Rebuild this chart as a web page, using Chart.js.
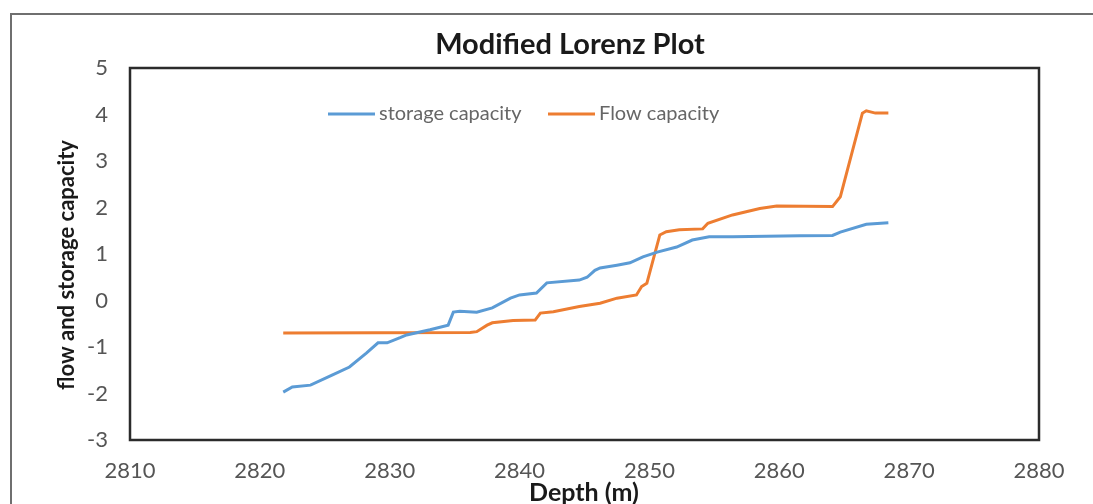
<!DOCTYPE html>
<html>
<head>
<meta charset="utf-8">
<script src="https://cdn.jsdelivr.net/npm/chart.js@4"></script>
<style>
  body { margin: 0; background: #fff; overflow: hidden; }
  #wrap { position: relative; width: 1093px; height: 504px; }
  #frame { position: absolute; left: 10px; top: 13px; width: 1100px; height: 600px; border: 2px solid #6f6f6f; }
  canvas { position: absolute; left: 0; top: 0; }
</style>
</head>
<body>
<div id="wrap">
  <div id="frame"></div>
  <canvas id="lorenz-chart" width="1093" height="504"></canvas>
</div>
<script>
const depthStorage = [2821.8, 2822.5, 2823.9, 2825.6, 2826.9, 2828.2, 2829.1, 2829.8, 2830.8, 2831.3, 2833.1, 2834.5, 2834.9, 2835.4, 2836.7, 2837.9, 2839.3, 2840.0, 2841.3, 2842.1, 2844.6, 2845.2, 2845.8, 2846.2, 2847.5, 2848.5, 2849.5, 2850.6, 2852.1, 2853.3, 2854.6, 2856.4, 2861.6, 2864.1, 2864.7, 2866.7, 2868.4];
const storageCapacity = [-1.97, -1.86, -1.82, -1.6, -1.43, -1.13, -0.91, -0.91, -0.8, -0.74, -0.63, -0.53, -0.25, -0.23, -0.25, -0.16, 0.05, 0.12, 0.16, 0.38, 0.44, 0.5, 0.65, 0.7, 0.76, 0.81, 0.94, 1.04, 1.15, 1.3, 1.37, 1.37, 1.39, 1.4, 1.47, 1.64, 1.67];

const depthFlow = [2821.8, 2836.2, 2836.7, 2837.5, 2837.9, 2839.5, 2841.2, 2841.6, 2842.6, 2844.6, 2846.2, 2847.5, 2849.0, 2849.4, 2849.8, 2850.8, 2851.3, 2852.3, 2854.1, 2854.5, 2856.4, 2858.5, 2859.8, 2864.1, 2864.7, 2866.4, 2866.7, 2867.4, 2868.4];
const flowCapacity = [-0.7, -0.69, -0.67, -0.53, -0.48, -0.43, -0.42, -0.27, -0.24, -0.13, -0.06, 0.05, 0.12, 0.3, 0.37, 1.41, 1.48, 1.52, 1.54, 1.66, 1.84, 1.98, 2.03, 2.02, 2.23, 4.03, 4.08, 4.03, 4.03];

const seriesLabels = ["storage capacity", "Flow capacity"];
const chartTitle = "Modified Lorenz Plot";
const xTitle = "Depth (m)";
const yTitle = "flow and storage capacity";

const FONT = "Lato, 'Open Sans', sans-serif";
const BLUE = "#5b9bd5";
const ORANGE = "#ed7d31";

const toPoints = (xs, ys) => xs.map((x, i) => ({ x, y: ys[i] }));

// titles, legend and the box round the plot
const decorations = {
  id: "decorations",
  afterDatasetsDraw(chart) {
    const { ctx, chartArea } = chart;
    ctx.save();

    ctx.strokeStyle = "#2b2b2b";
    ctx.lineWidth = 2.5;
    ctx.strokeRect(chartArea.left, chartArea.top, chartArea.right - chartArea.left, chartArea.bottom - chartArea.top);

    ctx.fillStyle = "#1a1a1a";
    ctx.textAlign = "center";
    ctx.textBaseline = "middle";
    ctx.font = "bold 29px " + FONT;
    ctx.fillText(chartTitle, 570, 45);

    ctx.font = "bold 25px " + FONT;
    ctx.fillText(xTitle, 584, 493);

    ctx.save();
    ctx.translate(67, 265);
    ctx.rotate(-Math.PI / 2);
    ctx.font = "bold 22px " + FONT;
    ctx.fillText(yTitle, 0, 0);
    ctx.restore();

    // legend inside the plot
    const items = [
      { x: 328, color: BLUE },
      { x: 548, color: ORANGE },
    ];
    ctx.font = "20px " + FONT;
    ctx.textAlign = "left";
    ctx.fillStyle = "#666666";
    items.forEach((it, i) => {
      ctx.strokeStyle = it.color;
      ctx.lineWidth = 3;
      ctx.beginPath();
      ctx.moveTo(it.x, 114);
      ctx.lineTo(it.x + 47, 114);
      ctx.stroke();
      ctx.fillText(seriesLabels[i], it.x + 51, 114);
    });

    ctx.restore();
  },
};

const ctx = document.getElementById("lorenz-chart");

new Chart(ctx, {
  type: "scatter",
  data: {
    datasets: [
      {
        label: seriesLabels[0],
        data: toPoints(depthStorage, storageCapacity),
        showLine: true,
        borderColor: BLUE,
        backgroundColor: BLUE,
        borderWidth: 3,
        pointRadius: 0,
        tension: 0,
      },
      {
        label: seriesLabels[1],
        data: toPoints(depthFlow, flowCapacity),
        showLine: true,
        borderColor: ORANGE,
        backgroundColor: ORANGE,
        borderWidth: 3,
        pointRadius: 0,
        tension: 0,
      },
    ],
  },
  options: {
    responsive: false,
    animation: false,
    layout: { padding: { left: 0, right: 54, top: 68, bottom: 0 } },
    plugins: {
      legend: { display: false },
      title: { display: false },
      tooltip: { enabled: false },
    },
    scales: {
      x: {
        type: "linear",
        min: 2810,
        max: 2880,
        grid: { display: false },
        border: { display: false },
        ticks: {
          stepSize: 10,
          color: "#555555",
          font: { family: FONT, size: 22 },
          padding: 10,
          maxRotation: 0,
          callback: (v) => String(v),
        },
        afterFit: (s) => { s.height = 64; },
      },
      y: {
        min: -3,
        max: 5,
        grid: { display: false },
        border: { display: false },
        ticks: { stepSize: 1, color: "#555555", font: { family: FONT, size: 22 }, padding: 14 },
        afterFit: (s) => { s.width = 130; },
      },
    },
  },
  plugins: [decorations],
});
</script>
</body>
</html>
